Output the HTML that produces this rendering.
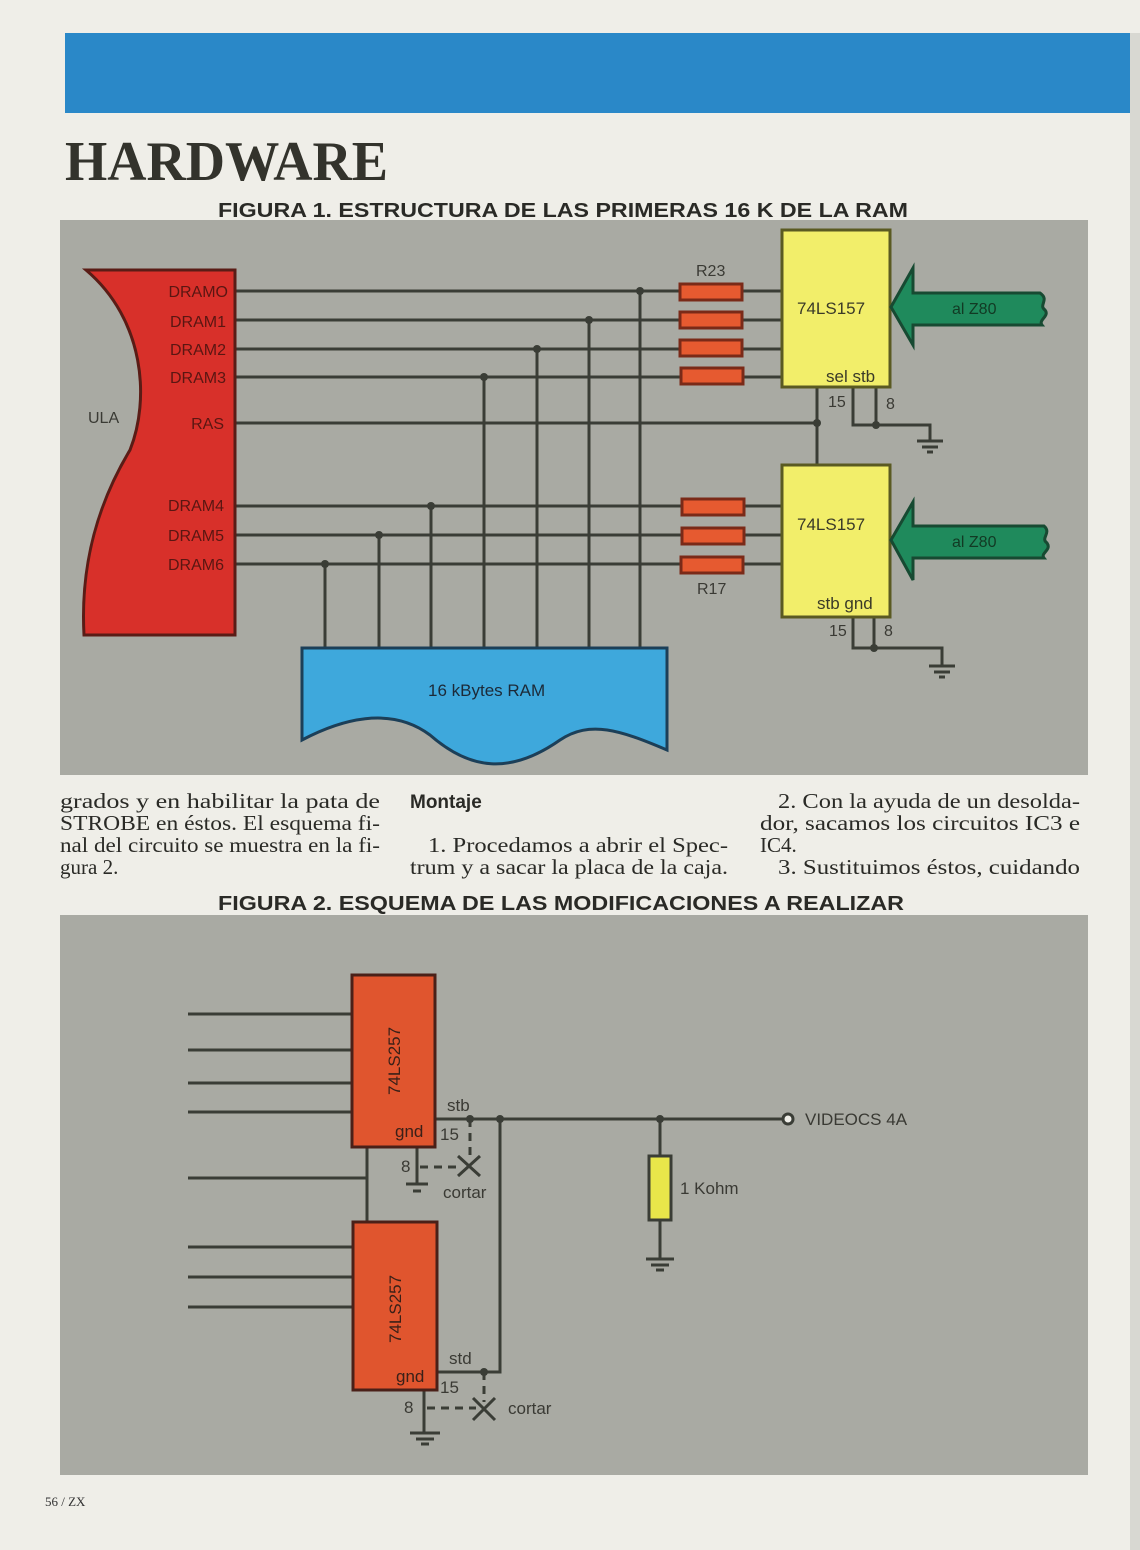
<!DOCTYPE html>
<html><head><meta charset="utf-8"><style>
html,body{margin:0;padding:0;background:#efeee8}
svg{display:block}
.ss{font-family:"Liberation Sans",sans-serif}
.s text{font-family:"Liberation Serif",serif;font-size:21px;fill:#2a2a26}
</style></head><body>
<svg width="1140" height="1550" viewBox="0 0 1140 1550" xmlns="http://www.w3.org/2000/svg">
<rect width="1140" height="1550" fill="#efeee8"/>
<rect x="65" y="33" width="1070" height="80" fill="#2a88c8"/>
<rect x="1130" y="33" width="10" height="1550" fill="#d8d8d2"/>
<text x="65" y="180" style="font-family:'Liberation Serif',serif" font-weight="bold" font-size="56" fill="#33332c" textLength="323" lengthAdjust="spacingAndGlyphs">HARDWARE</text>
<g class="ss">
<text x="218" y="217" font-weight="bold" font-size="20" fill="#2a2a26" textLength="690" lengthAdjust="spacingAndGlyphs">FIGURA 1. ESTRUCTURA DE LAS PRIMERAS 16 K DE LA RAM</text>

<!-- FIG 1 -->
<rect x="60" y="220" width="1028" height="555" fill="#a9aaa3"/>
<g stroke="#3a3d36" stroke-width="3" fill="none">
<line x1="235" y1="291" x2="782" y2="291"/>
<line x1="235" y1="320" x2="782" y2="320"/>
<line x1="235" y1="349" x2="782" y2="349"/>
<line x1="235" y1="377" x2="782" y2="377"/>
<line x1="235" y1="423" x2="817" y2="423"/>
<line x1="235" y1="506" x2="782" y2="506"/>
<line x1="235" y1="535" x2="782" y2="535"/>
<line x1="235" y1="564" x2="782" y2="564"/>
<line x1="640" y1="291" x2="640" y2="650"/>
<line x1="589" y1="320" x2="589" y2="650"/>
<line x1="537" y1="349" x2="537" y2="650"/>
<line x1="484" y1="377" x2="484" y2="650"/>
<line x1="431" y1="506" x2="431" y2="650"/>
<line x1="379" y1="535" x2="379" y2="650"/>
<line x1="325" y1="564" x2="325" y2="650"/>
<line x1="817" y1="387" x2="817" y2="465"/>
<polyline points="853,387 853,425 930,425 930,440"/>
<line x1="876" y1="387" x2="876" y2="425"/>
<polyline points="853,617 853,648 942,648 942,665"/>
<line x1="874" y1="617" x2="874" y2="648"/>
<line x1="917" y1="441" x2="943" y2="441"/><line x1="922" y1="447" x2="938" y2="447"/><line x1="927" y1="452" x2="933" y2="452"/>
<line x1="929" y1="666" x2="955" y2="666"/><line x1="934" y1="672" x2="950" y2="672"/><line x1="939" y1="677" x2="945" y2="677"/>
</g>
<g fill="#3a3d36">
<circle cx="640" cy="291" r="4"/><circle cx="589" cy="320" r="4"/><circle cx="537" cy="349" r="4"/><circle cx="484" cy="377" r="4"/>
<circle cx="431" cy="506" r="4"/><circle cx="379" cy="535" r="4"/><circle cx="325" cy="564" r="4"/>
<circle cx="817" cy="423" r="4"/><circle cx="876" cy="425" r="4"/><circle cx="874" cy="648" r="4"/>
</g>
<path d="M86,270 L235,270 L235,635 L84,635 C80,560 100,500 130,450 C150,400 145,320 86,270 Z" fill="#d8302a" stroke="#5a1c16" stroke-width="3"/>
<g font-size="16" fill="#5a1612" text-anchor="end">
<text x="228" y="297">DRAMO</text><text x="226" y="327">DRAM1</text><text x="226" y="355">DRAM2</text><text x="226" y="383">DRAM3</text>
<text x="224" y="429">RAS</text><text x="224" y="511">DRAM4</text><text x="224" y="541">DRAM5</text><text x="224" y="570">DRAM6</text>
</g>
<text x="88" y="423" font-size="16" fill="#3a3a34">ULA</text>
<g fill="#e65a30" stroke="#7a2a18" stroke-width="3">
<rect x="680" y="284" width="62" height="16"/><rect x="680" y="312" width="62" height="16"/><rect x="680" y="340" width="62" height="16"/><rect x="681" y="368" width="62" height="16"/>
<rect x="682" y="499" width="62" height="16"/><rect x="682" y="528" width="62" height="16"/><rect x="681" y="557" width="62" height="16"/>
</g>
<text x="696" y="276" font-size="16" fill="#3a3a34">R23</text>
<text x="697" y="594" font-size="16" fill="#3a3a34">R17</text>
<rect x="782" y="230" width="108" height="157" fill="#f2ee6a" stroke="#5a5a22" stroke-width="3"/>
<rect x="782" y="465" width="108" height="152" fill="#f2ee6a" stroke="#5a5a22" stroke-width="3"/>
<g font-size="17" fill="#3a3a28"><text x="797" y="314">74LS157</text><text x="797" y="530">74LS157</text>
<text x="826" y="382">sel stb</text><text x="817" y="609">stb gnd</text></g>
<g font-size="16" fill="#3a3a34"><text x="828" y="407">15</text><text x="886" y="409">8</text><text x="829" y="636">15</text><text x="884" y="636">8</text></g>
<path d="M891,307 L913,268 L913,293 L1040,293 C1050,300 1038,305 1045,310 C1050,316 1038,320 1042,325 L913,325 L913,345 Z" fill="#1f8a5c" stroke="#174a32" stroke-width="3"/>
<path d="M891,540 L913,502 L913,526 L1044,526 C1052,533 1040,538 1047,543 C1052,550 1040,553 1044,558 L913,558 L913,580 Z" fill="#1f8a5c" stroke="#174a32" stroke-width="3"/>
<text x="952" y="314" font-size="16" fill="#123a24">al Z80</text>
<text x="952" y="547" font-size="16" fill="#123a24">al Z80</text>
<path d="M302,648 L667,648 L667,750 C620,730 590,720 560,740 C510,775 470,770 430,735 C390,705 340,720 302,740 Z" fill="#3ea8dc" stroke="#1c3f58" stroke-width="3"/>
<text x="428" y="696" font-size="17" fill="#1c2a38">16 kBytes RAM</text>
</g>

<!-- text columns -->
<g class="s">
<text x="60" y="808" textLength="320" lengthAdjust="spacingAndGlyphs">grados y en habilitar la pata de</text>
<text x="60" y="830" textLength="320" lengthAdjust="spacingAndGlyphs">STROBE en éstos. El esquema fi-</text>
<text x="60" y="852" textLength="320" lengthAdjust="spacingAndGlyphs">nal del circuito se muestra en la fi-</text>
<text x="60" y="874">gura 2.</text>
<text x="428" y="852" textLength="300" lengthAdjust="spacingAndGlyphs">1.  Procedamos a abrir el Spec-</text>
<text x="410" y="874" textLength="318" lengthAdjust="spacingAndGlyphs">trum y a sacar la placa de la caja.</text>
<text x="778" y="808" textLength="302" lengthAdjust="spacingAndGlyphs">2.  Con la ayuda de un desolda-</text>
<text x="760" y="830" textLength="320" lengthAdjust="spacingAndGlyphs">dor, sacamos los circuitos IC3 e</text>
<text x="760" y="852">IC4.</text>
<text x="778" y="874" textLength="302" lengthAdjust="spacingAndGlyphs">3.  Sustituimos éstos, cuidando</text>
</g>
<g class="ss">
<text x="410" y="808" font-weight="bold" font-size="19" fill="#2a2a26">Montaje</text>
<text x="218" y="910" font-weight="bold" font-size="20" fill="#2a2a26" textLength="686" lengthAdjust="spacingAndGlyphs">FIGURA 2. ESQUEMA DE LAS MODIFICACIONES A REALIZAR</text>

<!-- FIG 2 -->
<rect x="60" y="915" width="1028" height="560" fill="#a9aaa3"/>
<g stroke="#3a3d36" stroke-width="3" fill="none">
<line x1="188" y1="1014" x2="352" y2="1014"/><line x1="188" y1="1050" x2="352" y2="1050"/>
<line x1="188" y1="1083" x2="352" y2="1083"/><line x1="188" y1="1112" x2="352" y2="1112"/>
<line x1="188" y1="1178" x2="367" y2="1178"/>
<line x1="367" y1="1147" x2="367" y2="1222"/>
<line x1="188" y1="1247" x2="352" y2="1247"/><line x1="188" y1="1277" x2="352" y2="1277"/><line x1="188" y1="1307" x2="352" y2="1307"/>
<line x1="435" y1="1119" x2="783" y2="1119"/>
<polyline points="500,1119 500,1372 437,1372"/>
<line x1="660" y1="1119" x2="660" y2="1258"/>
<line x1="417" y1="1147" x2="417" y2="1183"/>
<line x1="424" y1="1390" x2="424" y2="1432"/>
<line x1="406" y1="1184" x2="428" y2="1184"/><line x1="413" y1="1191" x2="421" y2="1191"/>
<line x1="410" y1="1433" x2="440" y2="1433"/><line x1="416" y1="1439" x2="434" y2="1439"/><line x1="421" y1="1444" x2="429" y2="1444"/>
<line x1="646" y1="1259" x2="674" y2="1259"/><line x1="651" y1="1265" x2="669" y2="1265"/><line x1="656" y1="1270" x2="664" y2="1270"/>
<g stroke-dasharray="8,6">
<line x1="470" y1="1119" x2="470" y2="1160"/><line x1="420" y1="1167" x2="462" y2="1167"/>
<line x1="484" y1="1372" x2="484" y2="1402"/><line x1="427" y1="1408" x2="476" y2="1408"/>
</g>
<line x1="458" y1="1156" x2="480" y2="1176"/><line x1="480" y1="1156" x2="458" y2="1176"/>
<line x1="473" y1="1398" x2="495" y2="1420"/><line x1="495" y1="1398" x2="473" y2="1420"/>
</g>
<g fill="#3a3d36"><circle cx="470" cy="1119" r="4"/><circle cx="500" cy="1119" r="4"/><circle cx="660" cy="1119" r="4"/><circle cx="484" cy="1372" r="4"/></g>
<circle cx="788" cy="1119" r="5" fill="#efeee8" stroke="#3a3d36" stroke-width="3"/>
<rect x="352" y="975" width="83" height="172" fill="#e0552e" stroke="#4a2018" stroke-width="3"/>
<rect x="353" y="1222" width="84" height="168" fill="#e0552e" stroke="#4a2018" stroke-width="3"/>
<rect x="649" y="1156" width="22" height="64" fill="#e8e64a" stroke="#3a3d36" stroke-width="3"/>
<g font-size="17" fill="#3a2018">
<text transform="translate(400,1095) rotate(-90)">74LS257</text>
<text transform="translate(401,1343) rotate(-90)">74LS257</text>
<text x="395" y="1137">gnd</text><text x="396" y="1382">gnd</text>
</g>
<g font-size="17" fill="#3a3a34">
<text x="447" y="1111">stb</text><text x="449" y="1364">std</text>
<text x="440" y="1140">15</text><text x="440" y="1393">15</text>
<text x="401" y="1172">8</text><text x="404" y="1413">8</text>
<text x="443" y="1198">cortar</text><text x="508" y="1414">cortar</text>
<text x="680" y="1194">1 Kohm</text>
<text x="805" y="1125">VIDEOCS 4A</text>
</g>
</g>
<text x="45" y="1506" style="font-family:'Liberation Serif',serif" font-size="13" fill="#333">56 / ZX</text>
</svg>
</body></html>
